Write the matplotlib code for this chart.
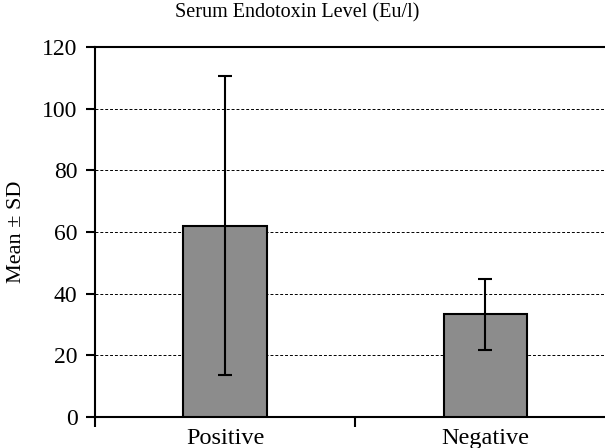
import matplotlib.pyplot as plt

groups = ["Positive", "Negative"]
means = [62.0, 33.3]
sds = [48.5, 11.5]
y_ticks = [0, 20, 40, 60, 80, 100, 120]

plt.rcParams["font.family"] = ["Liberation Serif", "DejaVu Serif"]

fig = plt.figure(figsize=(6.05, 4.48), dpi=100)
ax = fig.add_axes([0.157, 0.069, 0.86, 0.826])

positions = list(range(len(groups)))
ax.bar(positions, means, width=0.32, color="#8c8c8c", edgecolor="black",
       linewidth=1.5, zorder=3)
ax.errorbar(positions, means, yerr=sds, fmt="none", ecolor="black",
            elinewidth=1.5, capsize=5, capthick=1.5, zorder=4)

ax.set_xlim(-0.5, 1.5)
ax.set_ylim(0, 120)
ax.set_yticks(y_ticks)
ax.tick_params(axis="y", labelsize=17, length=6.5, width=1.5, direction="out", pad=6)

# boundary ticks on the category axis, labels centred under the bars
ax.set_xticks([-0.5, 0.5, 1.5])
ax.set_xticklabels([])
ax.tick_params(axis="x", which="major", length=7, width=1.5, direction="out")
ax.set_xticks(positions, minor=True)
ax.set_xticklabels(groups, minor=True)
ax.tick_params(axis="x", which="minor", length=0, labelsize=17.5, pad=8)

for y in y_ticks[1:-1]:
    ax.axhline(y, color="black", linestyle=(0, (3, 2)), linewidth=0.7, zorder=1)

for side in ["left", "bottom", "top"]:
    ax.spines[side].set_linewidth(1.5)
ax.spines["right"].set_visible(False)

ax.set_ylabel("Mean ± SD", fontsize=16, labelpad=12)
fig.text(0.492, 0.972, "Serum Endotoxin Level (Eu/l)", fontsize=14.5,
         ha="center", va="center")

fig.savefig("out.png", dpi=100)
